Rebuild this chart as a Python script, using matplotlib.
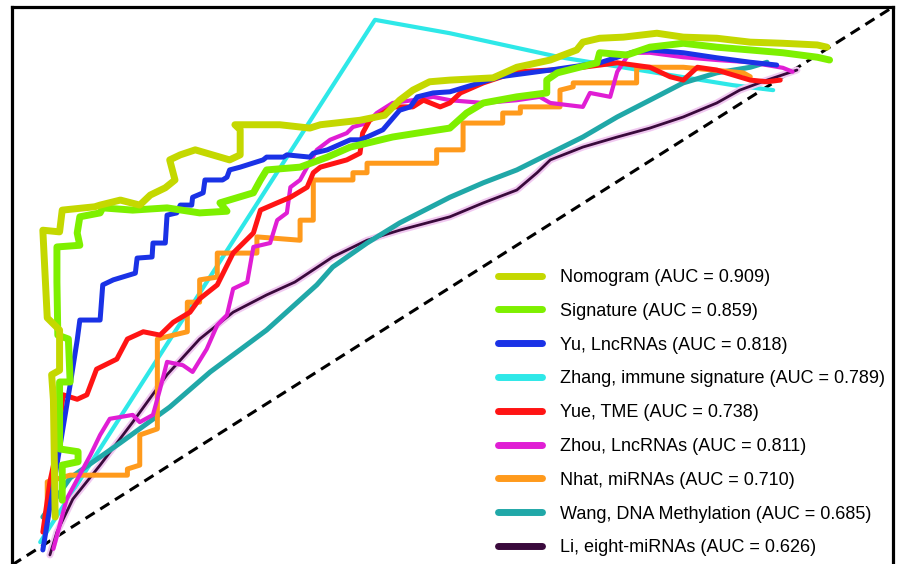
import matplotlib
matplotlib.use("Agg")
import matplotlib.pyplot as plt
import matplotlib.patheffects as pe

plt.rcParams['font.family'] = ['Liberation Sans', 'DejaVu Sans']

# ROC curves (false positive rate, true positive rate)
nomo_fpr = [0.049, 0.047, 0.045, 0.054, 0.054, 0.040, 0.035, 0.054, 0.057, 0.094, 0.100, 0.123, 0.145, 0.157, 0.174,
            0.185, 0.179, 0.191, 0.208, 0.247, 0.259, 0.259, 0.253, 0.270, 0.304, 0.338, 0.350, 0.395, 0.423, 0.440,
            0.455, 0.474, 0.497, 0.546, 0.573, 0.611, 0.641, 0.648, 0.667, 0.694, 0.732, 0.762, 0.800, 0.838, 0.875,
            0.914, 0.925]
nomo_tpr = [0.086, 0.296, 0.341, 0.349, 0.421, 0.443, 0.600, 0.597, 0.636, 0.642, 0.645, 0.654, 0.645, 0.663, 0.676,
            0.690, 0.726, 0.735, 0.744, 0.726, 0.735, 0.780, 0.789, 0.789, 0.789, 0.783, 0.789, 0.797, 0.806, 0.833,
            0.851, 0.866, 0.869, 0.873, 0.892, 0.905, 0.923, 0.937, 0.944, 0.946, 0.953, 0.946, 0.944, 0.937, 0.935,
            0.932, 0.928]

sig_fpr = [0.057, 0.057, 0.075, 0.075, 0.054, 0.054, 0.066, 0.064, 0.052, 0.051, 0.051, 0.077, 0.074, 0.077, 0.100,
           0.103, 0.137, 0.176, 0.213, 0.244, 0.236, 0.274, 0.282, 0.289, 0.327, 0.358, 0.384, 0.403, 0.432, 0.460,
           0.497, 0.516, 0.535, 0.573, 0.607, 0.607, 0.619, 0.664, 0.667, 0.698, 0.724, 0.762, 0.800, 0.838, 0.875,
           0.914, 0.928]
sig_tpr = [0.116, 0.179, 0.185, 0.203, 0.208, 0.328, 0.328, 0.405, 0.412, 0.507, 0.570, 0.573, 0.595, 0.624, 0.631,
           0.640, 0.636, 0.640, 0.631, 0.634, 0.649, 0.667, 0.690, 0.708, 0.713, 0.731, 0.749, 0.756, 0.767, 0.774,
           0.783, 0.810, 0.828, 0.839, 0.846, 0.869, 0.882, 0.900, 0.918, 0.914, 0.928, 0.935, 0.928, 0.923, 0.918,
           0.910, 0.905]

yu_fpr = [0.035, 0.066, 0.074, 0.077, 0.100, 0.103, 0.115, 0.140, 0.142, 0.159, 0.160, 0.174, 0.176, 0.187, 0.191,
          0.204, 0.205, 0.217, 0.219, 0.239, 0.244, 0.247, 0.259, 0.285, 0.289, 0.308, 0.312, 0.338, 0.342, 0.358,
          0.384, 0.395, 0.403, 0.421, 0.440, 0.452, 0.460, 0.478, 0.497, 0.554, 0.611, 0.667, 0.687, 0.705, 0.724,
          0.762, 0.800, 0.838, 0.868]
yu_tpr = [0.027, 0.323, 0.403, 0.439, 0.439, 0.502, 0.511, 0.523, 0.550, 0.552, 0.577, 0.577, 0.627, 0.631, 0.645,
          0.645, 0.659, 0.667, 0.690, 0.690, 0.695, 0.708, 0.713, 0.726, 0.731, 0.731, 0.735, 0.731, 0.738, 0.744,
          0.762, 0.762, 0.767, 0.780, 0.815, 0.821, 0.839, 0.846, 0.848, 0.875, 0.887, 0.900, 0.910, 0.919, 0.923,
          0.918, 0.909, 0.901, 0.896]

zhang_fpr = [0.032, 0.221, 0.412, 0.497, 0.622, 0.818, 0.864]
zhang_tpr = [0.041, 0.507, 0.977, 0.953, 0.910, 0.860, 0.851]

yue_fpr = [0.035, 0.043, 0.051, 0.058, 0.074, 0.085, 0.096, 0.119, 0.131, 0.149, 0.168, 0.183, 0.202, 0.213, 0.233,
           0.251, 0.274, 0.282, 0.301, 0.316, 0.335, 0.342, 0.350, 0.380, 0.395, 0.398, 0.406, 0.421, 0.432, 0.455,
           0.467, 0.486, 0.497, 0.509, 0.535, 0.573, 0.611, 0.648, 0.687, 0.724, 0.747, 0.762, 0.778, 0.800, 0.838,
           0.857, 0.872]
yue_tpr = [0.059, 0.149, 0.208, 0.305, 0.297, 0.305, 0.351, 0.369, 0.405, 0.418, 0.412, 0.435, 0.453, 0.477, 0.502,
           0.559, 0.595, 0.636, 0.649, 0.659, 0.677, 0.703, 0.713, 0.726, 0.738, 0.774, 0.797, 0.810, 0.821, 0.821,
           0.833, 0.821, 0.828, 0.846, 0.864, 0.884, 0.887, 0.892, 0.900, 0.892, 0.875, 0.869, 0.892, 0.887, 0.869,
           0.866, 0.869]

zhou_fpr = [0.047, 0.062, 0.089, 0.100, 0.111, 0.137, 0.145, 0.160, 0.168, 0.176, 0.194, 0.205, 0.221, 0.233, 0.244,
            0.251, 0.267, 0.274, 0.293, 0.301, 0.312, 0.316, 0.327, 0.335, 0.346, 0.361, 0.380, 0.387, 0.403, 0.414,
            0.432, 0.455, 0.478, 0.497, 0.535, 0.573, 0.599, 0.611, 0.648, 0.656, 0.679, 0.687, 0.701, 0.724, 0.762,
            0.800, 0.838, 0.875, 0.886]
zhou_tpr = [0.029, 0.118, 0.197, 0.233, 0.262, 0.269, 0.256, 0.269, 0.315, 0.364, 0.358, 0.346, 0.387, 0.430, 0.448,
            0.495, 0.507, 0.570, 0.577, 0.618, 0.631, 0.677, 0.690, 0.713, 0.744, 0.762, 0.774, 0.785, 0.792, 0.810,
            0.828, 0.833, 0.839, 0.833, 0.828, 0.833, 0.839, 0.828, 0.821, 0.846, 0.839, 0.884, 0.918, 0.918, 0.910,
            0.905, 0.901, 0.891, 0.884]

nhat_fpr = [0.040, 0.040, 0.066, 0.131, 0.131, 0.145, 0.145, 0.165, 0.165, 0.199, 0.199, 0.213, 0.213, 0.233, 0.233,
            0.278, 0.278, 0.327, 0.327, 0.342, 0.342, 0.387, 0.387, 0.403, 0.403, 0.482, 0.482, 0.512, 0.512, 0.557,
            0.557, 0.577, 0.577, 0.622, 0.622, 0.637, 0.637, 0.709, 0.709, 0.716, 0.762, 0.830, 0.838]
nhat_tpr = [0.090, 0.149, 0.161, 0.161, 0.172, 0.179, 0.233, 0.244, 0.405, 0.418, 0.471, 0.471, 0.511, 0.516, 0.559,
            0.559, 0.588, 0.582, 0.618, 0.618, 0.690, 0.690, 0.703, 0.703, 0.720, 0.720, 0.744, 0.744, 0.792, 0.792,
            0.810, 0.810, 0.821, 0.821, 0.851, 0.857, 0.864, 0.864, 0.891, 0.892, 0.892, 0.882, 0.875]

wang_fpr = [0.035, 0.066, 0.123, 0.179, 0.225, 0.289, 0.346, 0.364, 0.403, 0.440, 0.497, 0.535, 0.573,
            0.611, 0.648, 0.687, 0.724, 0.762, 0.800, 0.838, 0.857]
wang_tpr = [0.086, 0.156, 0.219, 0.283, 0.346, 0.421, 0.502, 0.534, 0.577, 0.613, 0.659, 0.685, 0.708,
            0.738, 0.767, 0.803, 0.833, 0.864, 0.882, 0.892, 0.901]

li_fpr = [0.043, 0.051, 0.069, 0.100, 0.137, 0.176, 0.213, 0.251, 0.289, 0.321, 0.364, 0.403, 0.440, 0.497, 0.535,
          0.573, 0.596, 0.611, 0.648, 0.687, 0.724, 0.762, 0.800, 0.826, 0.857, 0.891]
li_tpr = [0.018, 0.059, 0.118, 0.179, 0.256, 0.341, 0.405, 0.453, 0.484, 0.507, 0.552, 0.582, 0.600, 0.624, 0.649,
          0.672, 0.703, 0.726, 0.749, 0.767, 0.783, 0.803, 0.828, 0.851, 0.869, 0.887]

labels = ["Nomogram (AUC = 0.909)", "Signature (AUC = 0.859)", "Yu, LncRNAs (AUC = 0.818)",
          "Zhang, immune signature (AUC = 0.789)", "Yue, TME (AUC = 0.738)", "Zhou, LncRNAs (AUC = 0.811)",
          "Nhat, miRNAs (AUC = 0.710)", "Wang, DNA Methylation (AUC = 0.685)", "Li, eight-miRNAs (AUC = 0.626)"]
curves = [(nomo_fpr, nomo_tpr), (sig_fpr, sig_tpr), (yu_fpr, yu_tpr), (zhang_fpr, zhang_tpr), (yue_fpr, yue_tpr),
          (zhou_fpr, zhou_tpr), (nhat_fpr, nhat_tpr), (wang_fpr, wang_tpr), (li_fpr, li_tpr)]
colors = ['#c4d800', '#7ef000', '#1a32e6', '#2ee8e8', '#ff1414', '#e01ed4', '#ff9a1c', '#20a8a8', '#3a0a3c']
widths = [5.0, 5.0, 3.6, 3.0, 3.6, 3.0, 3.6, 3.6, 2.0]
zorders = [10, 9, 8, 2, 7, 6, 5, 4, 3]

fig = plt.figure(figsize=(9, 5.64), dpi=100)
ax = fig.add_axes([12 / 900, -1 / 564, 881 / 900, 558 / 564])

for (fpr, tpr), lab, col, lw, zo in zip(curves, labels, colors, widths, zorders):
    line, = ax.plot(fpr, tpr, color=col, lw=lw, label=lab, zorder=zo,
                    solid_joinstyle='round', solid_capstyle='round')
    if lab.startswith("Li"):
        line.set_path_effects([pe.Stroke(linewidth=5, foreground='#f0c8f0'), pe.Normal()])

ax.plot([0, 1], [0, 1], color='black', lw=2.2, ls=(0, (3.5, 2.2)), zorder=1)

ax.set_xlim(0, 1)
ax.set_ylim(0, 1)
ax.set_xticks([])
ax.set_yticks([])
for s in ax.spines.values():
    s.set_linewidth(2.3)
ax.spines['bottom'].set_visible(False)

leg = ax.legend(loc='upper left', bbox_to_anchor=(498 / 900, 1 - 269 / 564), bbox_transform=fig.transFigure,
                frameon=False, fontsize=13, handlelength=2.45, handletextpad=1.0, labelspacing=0.93,
                borderpad=0, borderaxespad=0)
for h in leg.get_lines():
    h.set_linewidth(5)
    h.set_path_effects([])

fig.savefig("out.png", dpi=100)
